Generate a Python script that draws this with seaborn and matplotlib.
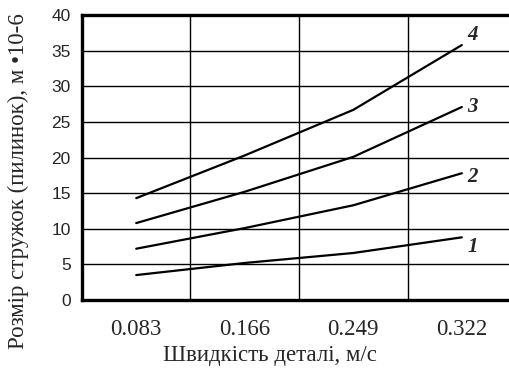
import pandas as pd
import seaborn as sns
import numpy as np
import matplotlib.pyplot as plt

# Data
speeds = ["0.083", "0.166", "0.249", "0.322"]
curve_1 = [3.5, 5.2, 6.6, 8.8]
curve_2 = [7.2, 10.1, 13.3, 17.8]
curve_3 = [10.8, 15.2, 20.1, 27.1]
curve_4 = [14.3, 20.3, 26.7, 35.8]
curve_names = ["1", "2", "3", "4"]

df = pd.DataFrame({"speed": speeds * 4,
                   "pos": list(range(len(speeds))) * 4,
                   "size": curve_1 + curve_2 + curve_3 + curve_4,
                   "curve": [n for n in curve_names for _ in speeds]})

sns.set_style("white")
plt.rcParams["font.family"] = ["Liberation Serif", "DejaVu Serif"]

fig = plt.figure(figsize=(5.09, 3.69), dpi=100)
# right edge of the plot area runs off the picture, like in the original
ax = fig.add_axes([0.161, 0.187, 0.853, 0.772])

sns.lineplot(data=df, x="pos", y="size", units="curve", estimator=None,
             color="black", linewidth=1.6, ax=ax, legend=False)

ax.set_xlim(-0.5, 3.5)
ax.set_ylim(0, 40)
ax.set_yticks(np.arange(0, 41, 5))
ax.set_xticks(range(len(speeds)))
ax.set_xticklabels(speeds, fontsize=16.5)
ax.set_xticks(np.arange(-0.5, 3.0, 1.0), minor=True)

ax.grid(True, axis="y", color="black", linewidth=1.0)
ax.grid(True, axis="x", which="minor", color="black", linewidth=1.0)
ax.set_axisbelow(True)

ax.tick_params(axis="x", which="major", length=0, pad=14)
ax.tick_params(axis="x", which="minor", length=5, width=1.0, color="black", direction="out")
ax.tick_params(axis="y", length=5, width=1.0, color="black", direction="out", pad=3)
for lab in ax.get_yticklabels():
    lab.set_fontfamily("Liberation Sans")
    lab.set_fontsize(12.5)

for side in ["left", "top", "bottom"]:
    ax.spines[side].set_linewidth(2.4)
    ax.spines[side].set_color("black")
ax.spines["right"].set_visible(False)

# curve numbers at the right end
offsets = {"1": -1.4, "2": -0.5, "3": 0.0, "4": 1.4}
for name, vals in zip(curve_names, [curve_1, curve_2, curve_3, curve_4]):
    ax.text(3.1, vals[-1] + offsets[name], name, fontsize=15, fontweight="bold",
            fontstyle="italic", ha="center", va="center")

ax.set_xlabel("Швидкість деталі, м/с", fontsize=16.5, va="center")
ax.set_ylabel("Розмір стружок (пилинок), м •10-6", fontsize=16.5, va="center")
ax.xaxis.set_label_coords(270 / 509, 1 - 355 / 369, transform=fig.transFigure)
ax.yaxis.set_label_coords(18 / 509, 1 - 181 / 369, transform=fig.transFigure)

fig.savefig("out.png", dpi=100)
